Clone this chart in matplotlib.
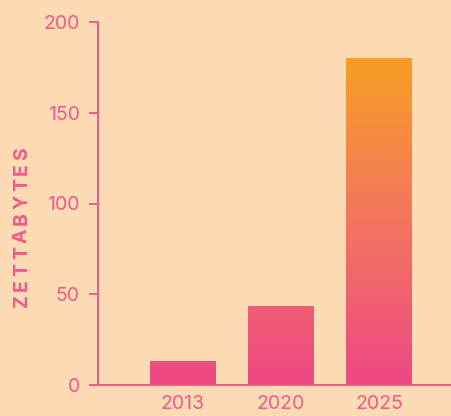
import numpy as np
import matplotlib
matplotlib.use('Agg')
import matplotlib.pyplot as plt
from matplotlib.colors import LinearSegmentedColormap

# ---- data ----
years = ['2013', '2020', '2025']
zettabytes = [13, 43.5, 180]
yticks = [0, 50, 100, 150, 200]

BG = '#FDDBB4'
PINK = '#F4588A'
cmap = LinearSegmentedColormap.from_list('pk_or', ['#EE4884', '#F37560', '#F89E24'])

plt.rcParams['font.family'] = ['Inter', 'DejaVu Sans']

fig = plt.figure(figsize=(4.52, 4.16), dpi=100, facecolor=BG)
ax = fig.add_axes([98 / 452, 31 / 416, 354 / 452, 363 / 416])
ax.set_facecolor(BG)

x = np.arange(len(years))
bars = ax.bar(x, zettabytes, width=0.67, color='none', edgecolor='none')
vmax = max(zettabytes)
for b in bars:
    x0, w, h = b.get_x(), b.get_width(), b.get_height()
    grad = np.linspace(0, h, 256).reshape(-1, 1)
    ax.imshow(grad, extent=[x0, x0 + w, 0, h], origin='lower', aspect='auto',
              cmap=cmap, vmin=0, vmax=vmax, zorder=2, interpolation='bilinear')

ax.set_xlim(-0.867, 2.745)
ax.set_ylim(0, 200)
ax.set_xticks(x)
ax.set_xticklabels(years)
ax.set_yticks(yticks)

for s in ['top', 'right']:
    ax.spines[s].set_visible(False)
for s in ['left', 'bottom']:
    ax.spines[s].set_color(PINK)
    ax.spines[s].set_linewidth(1.4)
    ax.spines[s].set_zorder(3)

ax.tick_params(axis='y', colors=PINK, length=6.5, width=1.4, pad=6.5, labelsize=14)
ax.tick_params(axis='x', colors=PINK, length=0, pad=7.5, labelsize=14)

# letter-spaced y label: measure each letter, then even gaps between them
label = 'ZETTABYTES'
y_start, y_end = 307, 147          # pixel rows (from top) of label bottom / top
renderer = fig.canvas.get_renderer()
letters = []
for ch in label:
    t = fig.text(22 / 452, 0.5, ch, rotation=90, ha='center', va='bottom',
                 fontsize=14, fontweight='bold', color=PINK)
    letters.append((t, t.get_window_extent(renderer).height))
gap = ((y_start - y_end) - sum(h for _, h in letters)) / (len(label) - 1)
ypos = y_start
for t, h in letters:
    t.set_y(1 - ypos / 416)
    ypos -= h + gap

fig.savefig('out.png', dpi=100, facecolor=BG)
